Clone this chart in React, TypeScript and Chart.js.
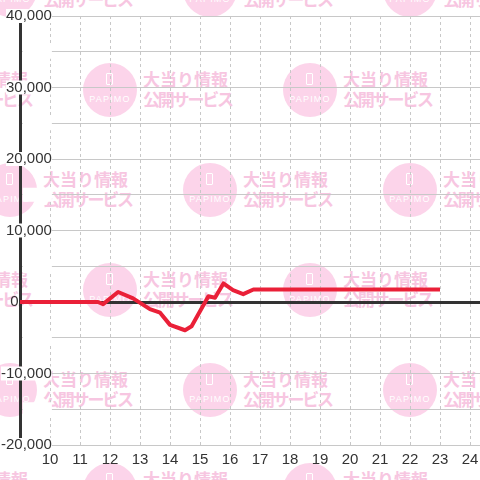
import React, { useEffect, useRef } from "react";
import { Chart, registerables } from "chart.js";

Chart.register(...registerables);

// ---- data ----
const hours: number[] = [9, 11.6, 11.77, 12.27, 12.77, 13.33, 13.67, 14.0, 14.5, 14.72, 15.28, 15.5, 15.78, 16.1, 16.44, 16.78, 23];
const balance: number[] = [0, 0, -300, 1400, 500, -1000, -1500, -3200, -3950, -3400, 800, 600, 2600, 1650, 1100, 1750, 1750];
const xTickValues: number[] = [10, 11, 12, 13, 14, 15, 16, 17, 18, 19, 20, 21, 22, 23, 24];
const yGridValues: number[] = [-20000, -15000, -10000, -5000, 0, 5000, 10000, 15000, 20000, 25000, 30000, 35000, 40000];
const yLabelValues: number[] = [-20000, -10000, 0, 10000, 20000, 30000, 40000];
const X_MIN = 9;
const X_MAX = 24.333;
const Y_MIN = -20000;
const Y_MAX = 40000;

const wmLine1 = "大当り情報";
const wmLine2 = "公開サービス";
const wmBrand = "PAPIMO";

const FONT = "'Liberation Sans', Arial, sans-serif";
const RED = "rgb(234, 32, 56)";
const GRID = "#c8c8c8";
const DARK = "#333333";
const CIRCLE = "#fcd4ea";
const WM_TEXT = "#f7c6e1";

function fmt(v: number): string {
  return v.toLocaleString("en-US");
}

function Watermark({ cx, cy }: { cx: number; cy: number }) {
  return (
    <div style={{ position: "absolute", left: cx - 27, top: cy - 27, width: 200, height: 54 }}>
      <div style={{ position: "absolute", left: 0, top: 0, width: 54, height: 54, borderRadius: "50%", background: CIRCLE }}>
        <div style={{ position: "absolute", left: 23, top: 10, width: 5, height: 10, border: "1.5px solid #fff", borderRadius: 1 }} />
        <div style={{ position: "absolute", left: 0, top: 32, width: 54, textAlign: "center", color: "#fff", font: "9px 'Liberation Sans', sans-serif", lineHeight: "9px", letterSpacing: "1.2px" }}>{wmBrand}</div>
      </div>
      <div style={{ position: "absolute", left: 60, top: 7, whiteSpace: "nowrap", color: WM_TEXT, font: "bold 17px 'Noto Sans CJK JP', sans-serif", lineHeight: "17px" }}>{wmLine1}</div>
      <div style={{ position: "absolute", left: 60, top: 27, whiteSpace: "nowrap", color: WM_TEXT, font: "bold 17px 'Noto Sans CJK JP', sans-serif", lineHeight: "17px", letterSpacing: "-2.2px" }}>{wmLine2}</div>
    </div>
  );
}

function WatermarkLayer() {
  const marks: { cx: number; cy: number }[] = [];
  for (let r = 0; r < 6; r++) {
    const cy = -10 + r * 100;
    const offset = r % 2 === 0 ? 10 : 110;
    for (let c = -1; c < 3; c++) {
      marks.push({ cx: offset + c * 200, cy });
    }
  }
  return (
    <div style={{ position: "absolute", left: 0, top: 0, width: 480, height: 480, overflow: "hidden" }}>
      {marks.map((m, i) => (
        <Watermark key={i} cx={m.cx} cy={m.cy} />
      ))}
    </div>
  );
}

export default function App() {
  const canvasRef = useRef<HTMLCanvasElement | null>(null);

  useEffect(() => {
    if (!canvasRef.current) return;
    const points = hours.map((h, i) => ({ x: h, y: balance[i] }));
    const chart = new Chart(canvasRef.current, {
      type: "line",
      data: {
        datasets: [
          {
            data: points,
            borderColor: RED,
            borderWidth: 4,
            pointRadius: 0,
            tension: 0,
            fill: false,
            borderJoinStyle: "round",
            borderCapStyle: "butt",
          },
        ],
      },
      options: {
        animation: false,
        responsive: false,
        events: [],
        layout: { padding: { top: 16, left: 0, right: 0, bottom: 0 } },
        plugins: { legend: { display: false }, tooltip: { enabled: false } },
        scales: {
          x: {
            type: "linear",
            min: X_MIN,
            max: X_MAX,
            afterBuildTicks: (s: any) => {
              s.ticks = xTickValues.map((v) => ({ value: v }));
            },
            afterFit: (s: any) => {
              s.height = 35;
              s.paddingLeft = 0;
              s.paddingRight = 0;
            },
            grid: { color: GRID, lineWidth: 1, drawTicks: false },
            border: { display: false, dash: [3, 3] },
            ticks: {
              color: DARK,
              font: { family: FONT, size: 15 },
              padding: 6,
              maxRotation: 0,
              autoSkip: false,
              callback: (v: any) => String(v),
            },
          },
          y: {
            type: "linear",
            min: Y_MIN,
            max: Y_MAX,
            afterBuildTicks: (s: any) => {
              s.ticks = yGridValues.map((v) => ({ value: v }));
            },
            afterFit: (s: any) => {
              s.width = 20;
              s.paddingTop = 0;
              s.paddingBottom = 0;
            },
            grid: {
              drawTicks: false,
              color: (ctx: any) => (ctx.tick && ctx.tick.value === 0 ? DARK : GRID),
              lineWidth: (ctx: any) => (ctx.tick && ctx.tick.value === 0 ? 3 : 1),
            },
            border: { display: true, color: DARK, width: 3 },
            ticks: {
              mirror: true,
              crossAlign: "far",
              padding: -19,
              color: DARK,
              font: { family: FONT, size: 15 },
              autoSkip: false,
              showLabelBackdrop: true,
              backdropColor: (ctx: any) => (ctx.tick && ctx.tick.value === 0 ? "rgba(0,0,0,0)" : "#ffffff"),
              backdropPadding: { top: -2, bottom: -2, left: 0, right: 0 },
              callback: (v: any) => {
                const n = Number(v);
                if (n === 0) return "0        ";
                if (yLabelValues.includes(n)) return fmt(n);
                return "       ";
              },
            },
          },
        },
      },
    });
    return () => chart.destroy();
  }, []);

  return (
    <div style={{ position: "absolute", left: 0, top: 0, width: 480, height: 480, background: "#fff", overflow: "hidden" }}>
      <WatermarkLayer />
      <canvas ref={canvasRef} width={480} height={480} style={{ position: "absolute", left: 0, top: 0, display: "block" }} />
    </div>
  );
}
